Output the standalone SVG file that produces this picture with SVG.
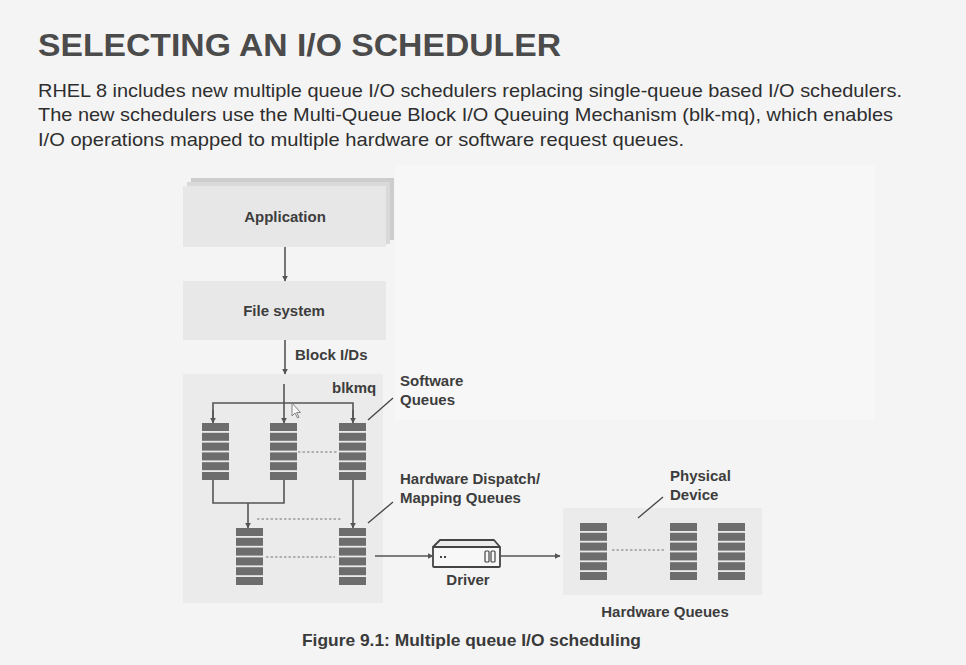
<svg xmlns="http://www.w3.org/2000/svg" width="966" height="665" viewBox="0 0 966 665">
<defs>
<style>
.title{font-family:"Liberation Sans",Arial,sans-serif;font-weight:bold;font-size:32px;fill:#4b4b4b}
.body{font-family:"Liberation Sans",Arial,sans-serif;font-size:19px;fill:#2e2e2e}
.lbl{font-family:"Liberation Sans",Arial,sans-serif;font-weight:bold;font-size:15px;fill:#3d3d3d}
.cap{font-family:"Liberation Sans",Arial,sans-serif;font-weight:bold;font-size:17px;fill:#3a3a3a}
.ln{stroke:#555;stroke-width:1.6;fill:none}
.arr{stroke:#555;stroke-width:1.6;fill:none;marker-end:url(#ah)}
.dash{stroke:#777;stroke-width:1.2;stroke-dasharray:2.5 2;fill:none}
.lead{stroke:#444;stroke-width:1.3;fill:none}
.box{fill:#e8e8e8}
.bar{fill:#6d6d6d}
</style>
<marker id="ah" viewBox="0 0 10 10" refX="9" refY="5" markerWidth="6" markerHeight="6" markerUnits="userSpaceOnUse" orient="auto">
<path d="M0,0 L10,5 L0,10 z" fill="#555"/>
</marker>
<g id="queue">
<rect class="bar" x="0" y="0" width="27" height="8"/>
<rect class="bar" x="0" y="9.8" width="27" height="8"/>
<rect class="bar" x="0" y="19.6" width="27" height="8"/>
<rect class="bar" x="0" y="29.4" width="27" height="8"/>
<rect class="bar" x="0" y="39.2" width="27" height="8"/>
<rect class="bar" x="0" y="49" width="27" height="8"/>
</g>
</defs>
<rect x="0" y="0" width="966" height="665" fill="#f4f4f4"/>
<rect x="395" y="165" width="480" height="255" fill="#f7f7f7"/>

<text class="title" x="38" y="56" textLength="523" lengthAdjust="spacingAndGlyphs">SELECTING AN I/O SCHEDULER</text>
<text class="body" x="38" y="97" textLength="864" lengthAdjust="spacingAndGlyphs">RHEL 8 includes new multiple queue I/O schedulers replacing single-queue based I/O schedulers.</text>
<text class="body" x="38" y="121" textLength="855" lengthAdjust="spacingAndGlyphs">The new schedulers use the Multi-Queue Block I/O Queuing Mechanism (blk-mq), which enables</text>
<text class="body" x="38" y="146" textLength="646" lengthAdjust="spacingAndGlyphs">I/O operations mapped to multiple hardware or software request queues.</text>

<g id="application">
<rect x="191" y="178" width="203" height="62" fill="#cdcdcd"/>
<rect x="187" y="182" width="203" height="62" fill="#d9d9d9"/>
<rect x="183" y="186" width="203" height="61" fill="#e7e7e7"/>
<text class="lbl" x="285" y="222" text-anchor="middle">Application</text>
</g>

<g id="filesystem">
<rect class="box" x="183" y="281" width="203" height="59"/>
<text class="lbl" x="284" y="316" text-anchor="middle">File system</text>
</g>

<g id="blkmq">
<rect x="183" y="374" width="200" height="229" fill="#ebebeb"/>
<text class="lbl" x="332" y="393">blkmq</text>
</g>

<g id="software-queues">
<use href="#queue" x="202" y="423"/>
<use href="#queue" x="270" y="423"/>
<use href="#queue" x="339" y="423"/>
<text class="lbl" x="400" y="386">Software</text>
<text class="lbl" x="400" y="405">Queues</text>
</g>

<g id="hw-dispatch-queues">
<use href="#queue" x="236" y="528"/>
<use href="#queue" x="339" y="528"/>
<text class="lbl" x="400" y="484">Hardware Dispatch/</text>
<text class="lbl" x="400" y="503">Mapping Queues</text>
</g>

<g id="driver">
<path d="M433,547 L440,540 L494,540 L500,547 Z" fill="#ececec" stroke="#444" stroke-width="1.8" stroke-linejoin="round"/>
<rect x="433" y="547" width="67" height="20" fill="#f7f7f7" stroke="#444" stroke-width="1.8" rx="1"/>
<rect x="440" y="556" width="2" height="2" fill="#444"/>
<rect x="444" y="556" width="2" height="2" fill="#444"/>
<rect x="485" y="551" width="4" height="11" fill="none" stroke="#444" stroke-width="1.2" rx="1"/>
<rect x="491" y="551" width="4" height="11" fill="none" stroke="#444" stroke-width="1.2" rx="1"/>
<text class="lbl" x="468" y="585" text-anchor="middle">Driver</text>
</g>

<g id="hardware-queues">
<rect x="563" y="508" width="199" height="87" fill="#ebebeb"/>
<use href="#queue" x="580" y="523"/>
<use href="#queue" x="670" y="523"/>
<use href="#queue" x="718" y="523"/>
<text class="lbl" x="665" y="617" text-anchor="middle">Hardware Queues</text>
<text class="lbl" x="670" y="481">Physical</text>
<text class="lbl" x="670" y="500">Device</text>
</g>

<g id="connectors">
<line class="arr" x1="285" y1="247" x2="285" y2="281"/>
<line class="arr" x1="285" y1="340" x2="285" y2="374"/>
<text class="lbl" x="295" y="360">Block I/Ds</text>
<line class="arr" x1="284" y1="384" x2="284" y2="423"/>
<path class="ln" d="M213,422 V403 H353 V422"/>
<line class="arr" x1="213" y1="410" x2="213" y2="423"/>
<line class="arr" x1="353" y1="410" x2="353" y2="423"/>
<path class="ln" d="M213,480 V503 H284 V480"/>
<line class="arr" x1="248" y1="503" x2="248" y2="528"/>
<line class="arr" x1="353" y1="480" x2="353" y2="528"/>
<line class="arr" x1="375" y1="556" x2="433" y2="556"/>
<line class="arr" x1="501" y1="556" x2="560" y2="556"/>
<line class="dash" x1="298" y1="452" x2="338" y2="452"/>
<line class="dash" x1="257" y1="519" x2="342" y2="519"/>
<line class="dash" x1="266" y1="557" x2="335" y2="557"/>
<line class="dash" x1="612" y1="550" x2="665" y2="550"/>
<line class="lead" x1="393" y1="398" x2="368" y2="420"/>
<line class="lead" x1="393" y1="502" x2="368" y2="523"/>
<line class="lead" x1="663" y1="497" x2="638" y2="518"/>
</g>

<path d="M292,403 L292,416 L295,413 L297.5,418 L299,417.3 L296.6,412.5 L300.5,412.5 Z" fill="#f8f8f8" stroke="#777" stroke-width="0.9"/>

<text class="cap" x="302" y="646" textLength="339" lengthAdjust="spacingAndGlyphs">Figure 9.1: Multiple queue I/O scheduling</text>
</svg>
